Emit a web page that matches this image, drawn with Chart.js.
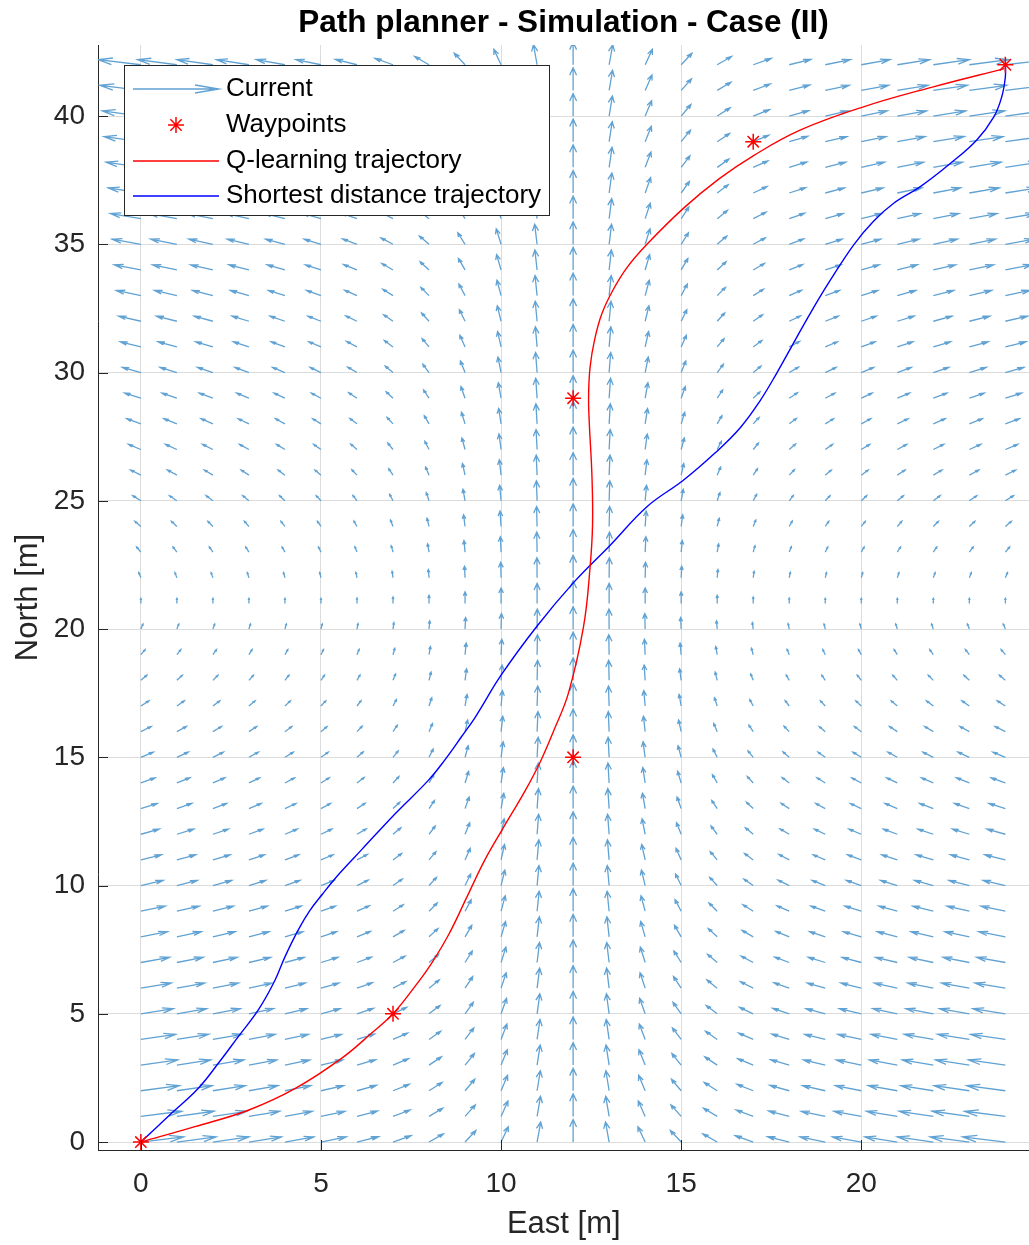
<!DOCTYPE html>
<html>
<head>
<meta charset="utf-8">
<title>Path planner - Simulation - Case (II)</title>
<script src="https://cdn.jsdelivr.net/npm/chart.js@4.4.0/dist/chart.umd.min.js"></script>
<style>
  html, body { margin: 0; padding: 0; background: #fff; overflow: hidden; }
  #wrap { width: 1029px; height: 1245px; overflow: hidden; }
</style>
</head>
<body>
<div id="wrap"><canvas id="pathChart" width="1039" height="1245"></canvas></div>
<script>
// Current field grid (East / North positions of the arrows, metres)
const eastGrid = [0, 1, 2, 3, 4, 5, 6, 7, 8, 9, 10, 11, 12, 13, 14, 15, 16, 17, 18, 19, 20, 21, 22, 23, 24];
const northGrid = [0, 1, 2, 3, 4, 5, 6, 7, 8, 9, 10, 11, 12, 13, 14, 15, 16, 17, 18, 19, 20,
  21, 22, 23, 24, 25, 26, 27, 28, 29, 30, 31, 32, 33, 34, 35, 36, 37, 38, 39, 40, 41, 42];

// East component of the current on the bottom row (per column)
const currentEastBottom = [1.19, 1.09, 1.0, 0.9, 0.8, 0.7, 0.6, 0.5, 0.4, 0.3, 0.2, 0.1, 0,
  -0.1, -0.2, -0.3, -0.4, -0.5, -0.6, -0.7, -0.8, -0.9, -1.0, -1.09, -1.19];
// how the East component changes going north (per row)
const currentEastRowFactor = [1.0, 0.95, 0.9, 0.86, 0.81, 0.76, 0.71, 0.67, 0.62, 0.57, 0.52,
  0.48, 0.43, 0.38, 0.33, 0.29, 0.24, 0.19, 0.14, 0.1, 0.05, 0, -0.05, -0.1, -0.14, -0.19,
  -0.24, -0.29, -0.33, -0.38, -0.43, -0.48, -0.52, -0.57, -0.62, -0.67, -0.71, -0.76, -0.81,
  -0.86, -0.9, -0.95, -1.0];
// North component of the current (per column)
const currentNorth = [0.2, 0.2, 0.2, 0.2, 0.2, 0.2, 0.21, 0.25, 0.32, 0.45, 0.6, 0.78, 0.88,
  0.78, 0.6, 0.45, 0.32, 0.25, 0.21, 0.2, 0.2, 0.2, 0.2, 0.2, 0.2];

// Waypoints
const waypointEast = [0, 7, 12, 12, 17, 24];
const waypointNorth = [0, 5, 15, 29, 39, 42];

// Q-learning trajectory
const qEast = [0, 1.5, 3.0, 4.3, 5.57, 6.4, 7.0, 7.6, 8.07, 8.55, 9.05, 9.55, 10.04, 10.67, 11.08,
  11.45, 11.87, 12.29, 12.47, 12.54, 12.52, 12.45, 12.43, 12.47, 12.6, 12.8, 13.1, 13.5, 14.05,
  15.06, 16.05, 17.0, 18.3, 20.06, 22.0, 23.97];
const qNorth = [0, 0.6, 1.25, 2.1, 3.26, 4.24, 5.0, 6.05, 6.97, 8.1, 9.55, 11.0, 12.2, 13.7, 14.8,
  16.0, 17.5, 20.1, 22.4, 24.1, 26.07, 28.0, 29.06, 30.2, 31.3, 32.3, 33.2, 34.1, 35.0,
  36.4, 37.55, 38.45, 39.45, 40.36, 41.14, 41.85];

// Shortest distance trajectory
const sEast = [0, 0.85, 1.59, 2.15, 2.7, 3.26, 3.72, 4.0, 4.37, 4.68, 5.05, 5.5, 6.13, 7.06, 7.98,
  8.44, 8.9, 9.3, 10.0, 10.99, 12.03, 13.03, 14.05, 15.06, 15.93, 16.64, 17.19, 17.65, 18.1, 18.58,
  19.14, 19.8, 20.34, 20.9, 21.64, 22.47, 23.2, 23.68, 23.9, 24.0, 24.0];
const sNorth = [0, 1.12, 2.09, 3.07, 4.1, 5.15, 6.3, 7.22, 8.27, 9.0, 9.68, 10.45, 11.4, 12.8, 14.1,
  14.9, 15.8, 16.6, 18.2, 20.1, 21.84, 23.27, 24.77, 25.8, 26.85, 27.85, 28.9, 29.97, 31.1, 32.3,
  33.6, 35.0, 35.9, 36.6, 37.25, 38.15, 39.06, 39.97, 40.75, 41.53, 42.0];

const xTicks = [0, 5, 10, 15, 20];
const yTicks = [0, 5, 10, 15, 20, 25, 30, 35, 40];

const FONT = '"Liberation Sans", Arial, Helvetica, sans-serif';
const TEXT = '#262626';
const ARROW = 'rgb(96,162,211)';
const PLOT_RIGHT = 1029; // visible right edge of the axes

const toXY = (xs, ys) => xs.map((x, i) => ({ x: x, y: ys[i] }));

const quiverData = [];
eastGrid.forEach((x, i) => {
  northGrid.forEach((y, j) => {
    quiverData.push({ x: x, y: y, u: currentEastBottom[i] * currentEastRowFactor[j], v: currentNorth[i] });
  });
});

// quiver arrows, matlab style heads computed in data units
const quiverPlugin = {
  id: 'quiver',
  beforeDatasetsDraw(chart) {
    const { ctx, chartArea, scales } = chart;
    const xs = scales.x, ys = scales.y;
    const a = 0.33, b = 0.33;
    ctx.save();
    ctx.beginPath();
    ctx.rect(chartArea.left, chartArea.top, chartArea.right - chartArea.left, chartArea.bottom - chartArea.top);
    ctx.clip();
    ctx.strokeStyle = ARROW;
    ctx.lineWidth = 1.3;
    chart.data.datasets[0].data.forEach(p => {
      const tx = p.x + p.u, ty = p.y + p.v;
      const h1x = tx - a * (p.u + b * p.v), h1y = ty - a * (p.v - b * p.u);
      const h2x = tx - a * (p.u - b * p.v), h2y = ty - a * (p.v + b * p.u);
      ctx.beginPath();
      ctx.moveTo(xs.getPixelForValue(p.x), ys.getPixelForValue(p.y));
      ctx.lineTo(xs.getPixelForValue(tx), ys.getPixelForValue(ty));
      ctx.moveTo(xs.getPixelForValue(h1x), ys.getPixelForValue(h1y));
      ctx.lineTo(xs.getPixelForValue(tx), ys.getPixelForValue(ty));
      ctx.lineTo(xs.getPixelForValue(h2x), ys.getPixelForValue(h2y));
      ctx.stroke();
    });
    ctx.restore();
  }
};

// inward ticks, title and legend box
const decorPlugin = {
  id: 'decor',
  afterDraw(chart) {
    const { ctx, chartArea, scales } = chart;
    ctx.save();
    ctx.strokeStyle = TEXT;
    ctx.lineWidth = 1;
    ctx.beginPath();
    yTicks.forEach(t => {
      const py = Math.round(scales.y.getPixelForValue(t)) + 0.5;
      ctx.moveTo(chartArea.left, py);
      ctx.lineTo(chartArea.left + 10, py);
    });
    xTicks.forEach(t => {
      const px = Math.round(scales.x.getPixelForValue(t)) + 0.5;
      ctx.moveTo(px, chartArea.bottom);
      ctx.lineTo(px, chartArea.bottom - 10);
    });
    ctx.stroke();

    // title
    ctx.fillStyle = '#000';
    ctx.font = 'bold 31.5px ' + FONT;
    ctx.textAlign = 'center';
    ctx.textBaseline = 'middle';
    ctx.fillText('Path planner - Simulation - Case (II)', (chartArea.left + PLOT_RIGHT) / 2, 23);

    // legend
    const lx = chartArea.left + 26, ly = chartArea.top + 20, lw = 425, lh = 150;
    ctx.fillStyle = '#fff';
    ctx.fillRect(lx, ly, lw, lh);
    ctx.strokeStyle = TEXT;
    ctx.strokeRect(lx + 0.5, ly + 0.5, lw, lh);
    const rows = [ly + 24, ly + 60, ly + 96, ly + 131];
    const s0 = lx + 9, s1 = lx + 95;
    // arrow sample
    ctx.strokeStyle = ARROW;
    ctx.lineWidth = 1.3;
    ctx.beginPath();
    ctx.moveTo(s0, rows[0]);
    ctx.lineTo(s1, rows[0]);
    ctx.moveTo(s1 - 24, rows[0] - 4);
    ctx.lineTo(s1, rows[0]);
    ctx.lineTo(s1 - 24, rows[0] + 4);
    ctx.stroke();
    // star sample
    const cx = (s0 + s1) / 2, cy = rows[1], r = 8;
    ctx.strokeStyle = '#ff0000';
    ctx.lineWidth = 1.5;
    ctx.beginPath();
    ctx.moveTo(cx - r, cy); ctx.lineTo(cx + r, cy);
    ctx.moveTo(cx, cy - r); ctx.lineTo(cx, cy + r);
    const d = r * Math.SQRT1_2;
    ctx.moveTo(cx - d, cy - d); ctx.lineTo(cx + d, cy + d);
    ctx.moveTo(cx - d, cy + d); ctx.lineTo(cx + d, cy - d);
    ctx.stroke();
    // line samples
    ctx.lineWidth = 1.4;
    ctx.strokeStyle = '#ff0000';
    ctx.beginPath(); ctx.moveTo(s0, rows[2]); ctx.lineTo(s1, rows[2]); ctx.stroke();
    ctx.strokeStyle = '#0000ff';
    ctx.beginPath(); ctx.moveTo(s0, rows[3]); ctx.lineTo(s1, rows[3]); ctx.stroke();

    ctx.fillStyle = '#000';
    ctx.font = '26px ' + FONT;
    ctx.textAlign = 'left';
    ctx.textBaseline = 'middle';
    const labels = chart.data.datasets.map(ds => ds.label);
    labels.forEach((t, i) => ctx.fillText(t, lx + 102, rows[i]));
    ctx.restore();
  }
};

new Chart(document.getElementById('pathChart'), {
  type: 'scatter',
  data: {
    datasets: [
      { label: 'Current', data: quiverData, pointRadius: 0, showLine: false, order: 3 },
      {
        label: 'Waypoints', data: toXY(waypointEast, waypointNorth), showLine: false,
        pointStyle: 'star', pointRadius: 8, borderColor: '#ff0000', backgroundColor: '#ff0000',
        borderWidth: 1.5, order: 0
      },
      {
        label: 'Q-learning trajectory', data: toXY(qEast, qNorth), showLine: true, tension: 0.4,
        borderColor: '#ff0000', borderWidth: 1.4, pointRadius: 0, fill: false, order: 1
      },
      {
        label: 'Shortest distance trajectory', data: toXY(sEast, sNorth), showLine: true, tension: 0.4,
        borderColor: '#0000ff', borderWidth: 1.4, pointRadius: 0, fill: false, order: 2
      }
    ]
  },
  options: {
    responsive: false,
    animation: false,
    devicePixelRatio: 1,
    layout: { padding: { top: 45, left: 0, right: 0, bottom: 0 } },
    plugins: { legend: { display: false }, title: { display: false }, tooltip: { enabled: false } },
    scales: {
      x: {
        type: 'linear', min: -1.19, max: 24.67,
        afterBuildTicks: s => { s.ticks = xTicks.map(v => ({ value: v })); },
        afterFit: s => { s.height = 95; },
        grid: { color: '#dcdcdc', lineWidth: 1, drawTicks: false },
        border: { display: true, color: TEXT, width: 1 },
        ticks: { padding: 17, color: TEXT, font: { family: FONT, size: 28 } },
        title: { display: true, text: 'East [m]', color: TEXT, font: { family: FONT, size: 31 }, padding: { top: 0, bottom: 2 } }
      },
      y: {
        type: 'linear', min: -0.31, max: 42.77,
        afterBuildTicks: s => { s.ticks = yTicks.map(v => ({ value: v })); },
        afterFit: s => { s.width = 98; },
        grid: { color: '#dcdcdc', lineWidth: 1, drawTicks: false },
        border: { display: true, color: TEXT, width: 1 },
        ticks: { padding: 13, color: TEXT, font: { family: FONT, size: 28 } },
        title: { display: true, text: 'North [m]', color: TEXT, font: { family: FONT, size: 31 }, padding: { top: 10, bottom: 0 } }
      }
    }
  },
  plugins: [quiverPlugin, decorPlugin]
});
</script>
</body>
</html>
